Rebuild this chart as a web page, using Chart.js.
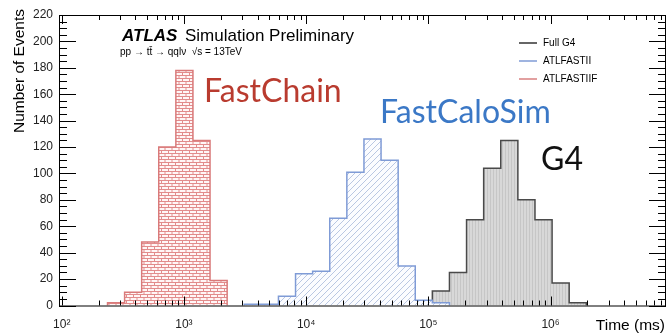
<!DOCTYPE html>
<html>
<head>
<meta charset="utf-8">
<script src="https://cdn.jsdelivr.net/npm/chart.js@4.4.1/dist/chart.umd.min.js"></script>
<style>
html, body { margin: 0; padding: 0; background: #fff; }
</style>
</head>
<body>
<canvas id="grafica" width="671" height="334"></canvas>
<script>
// bordes de los bins (ms), comunes a los tres histogramas
const bordesBins = [237, 327, 451, 622, 859, 1185, 1635, 2257, 3115, 4299, 5934, 8190,
  11300, 15600, 21530, 29720, 41010, 56610, 78120, 107800, 148800, 205400, 283500,
  391300, 540100, 745400, 1029000, 1420000, 1960000]

// eventos por bin; cada serie empieza en un bin distinto
const inicioFastChain = 0
const eventosFastChain = [2, 10, 48, 120, 178, 125, 19]
const inicioFastCaloSim = 8
const eventosFastCaloSim = [1, 1, 7, 24, 26, 66, 101, 126, 110, 30, 4, 2]
const inicioG4 = 17
const eventosG4 = [1, 3, 11, 25, 65, 104, 125, 80, 65, 17, 2]

const ticksX = [1e2, 1e3, 1e4, 1e5, 1e6]
const etiquetasX = ["10\u00b2", "10\u00b3", "10\u2074", "10\u2075", "10\u2076"]
const leyendaTextos = ["Full G4", "ATLFASTII", "ATLFASTIIF"]
const leyendaColores = ["#333333", "#7f9bd6", "#d98080"]

function puntosHistograma(inicio, eventos) {
  const puntos = [{ x: bordesBins[inicio], y: 0 }]
  eventos.forEach((n, i) => {
    puntos.push({ x: bordesBins[inicio + i], y: n })
  })
  puntos.push({ x: bordesBins[inicio + eventos.length], y: 0 })
  return puntos
}

function patronLadrillo() {
  const c = document.createElement("canvas")
  c.width = 7; c.height = 6
  const g = c.getContext("2d")
  g.fillStyle = "#fff6f6"; g.fillRect(0, 0, 7, 6)
  g.strokeStyle = "#e28c8c"; g.lineWidth = 1
  g.beginPath()
  g.moveTo(0, 0.5); g.lineTo(7, 0.5)
  g.moveTo(0, 3.5); g.lineTo(7, 3.5)
  g.moveTo(0.5, 0); g.lineTo(0.5, 3.5)
  g.moveTo(4, 3.5); g.lineTo(4, 6)
  g.stroke()
  return g.createPattern(c, "repeat")
}

function patronDiagonal() {
  const c = document.createElement("canvas")
  c.width = 6; c.height = 6
  const g = c.getContext("2d")
  g.fillStyle = "#fbfcff"; g.fillRect(0, 0, 6, 6)
  g.strokeStyle = "#b9c7e2"; g.lineWidth = 1
  g.beginPath()
  g.moveTo(0, 6); g.lineTo(6, 0)
  g.moveTo(-1, 1); g.lineTo(1, -1)
  g.moveTo(5, 7); g.lineTo(7, 5)
  g.stroke()
  return g.createPattern(c, "repeat")
}

function patronGris() {
  const c = document.createElement("canvas")
  c.width = 3; c.height = 4
  const g = c.getContext("2d")
  g.fillStyle = "#d8d8d8"; g.fillRect(0, 0, 3, 4)
  g.fillStyle = "#c6c6c6"; g.fillRect(1, 0, 1, 4)
  return g.createPattern(c, "repeat")
}

const marcoYTextos = {
  id: "marcoYTextos",
  afterDatasetsDraw(chart) {
    const ctx = chart.ctx
    const a = chart.chartArea
    const x = chart.scales.x
    const y = chart.scales.y
    ctx.save()
    ctx.strokeStyle = "#000"
    ctx.lineWidth = 1
    ctx.strokeRect(a.left + 0.5, a.top + 0.5, a.right - a.left - 1, a.bottom - a.top)

    // ticks hacia adentro, en los cuatro lados
    ctx.beginPath()
    for (let d = 1; d <= 6; d++) {
      for (let m = 1; m <= 9; m++) {
        const v = m * Math.pow(10, d)
        if (v < x.min || v > x.max) continue
        const px = Math.round(x.getPixelForValue(v)) + 0.5
        const largo = m === 1 ? 9 : 5
        ctx.moveTo(px, a.bottom); ctx.lineTo(px, a.bottom - largo)
        ctx.moveTo(px, a.top); ctx.lineTo(px, a.top + largo)
      }
    }
    for (let v = 0; v <= 220; v += 5) {
      const py = Math.round(y.getPixelForValue(v)) + 0.5
      const largo = v % 20 === 0 ? 17 : 8
      ctx.moveTo(a.left, py); ctx.lineTo(a.left + largo, py)
      ctx.moveTo(a.right, py); ctx.lineTo(a.right - largo, py)
    }
    ctx.stroke()

    // titulo ATLAS
    ctx.fillStyle = "#000"
    ctx.textBaseline = "alphabetic"
    ctx.textAlign = "left"
    ctx.font = "italic bold 17px 'Liberation Sans', Arial, sans-serif"
    ctx.fillText("ATLAS", 122, 41)
    ctx.font = "17px 'Liberation Sans', Arial, sans-serif"
    ctx.fillText("Simulation Preliminary", 185, 41)
    ctx.font = "10px 'Liberation Sans', Arial, sans-serif"
    ctx.fillText("pp \u2192 tt\u0304 \u2192 qql\u03bd  \u221as = 13TeV", 120, 55)

    // leyenda
    ctx.font = "10px 'Liberation Sans', Arial, sans-serif"
    ctx.textBaseline = "middle"
    leyendaTextos.forEach((t, i) => {
      const ly = 43 + i * 18
      ctx.strokeStyle = leyendaColores[i]
      ctx.lineWidth = 1.5
      ctx.beginPath(); ctx.moveTo(519, ly); ctx.lineTo(537, ly); ctx.stroke()
      ctx.fillStyle = "#000"
      ctx.fillText(t, 543, ly)
    })

    // etiquetas grandes
    ctx.textBaseline = "alphabetic"
    ctx.font = "32px Lato, 'Open Sans', sans-serif"
    ctx.fillStyle = "#b93b2f"
    ctx.fillText("FastChain", 204, 102)
    ctx.fillStyle = "#3b78c6"
    ctx.fillText("FastCaloSim", 380, 123)
    ctx.fillStyle = "#111"
    ctx.fillText("G4", 541, 170)

    // titulos de ejes
    ctx.fillStyle = "#000"
    ctx.font = "15.5px 'Liberation Sans', Arial, sans-serif"
    ctx.textAlign = "right"
    ctx.fillText("Time (ms)", 665, 330)
    ctx.save()
    ctx.translate(24, 9)
    ctx.rotate(-Math.PI / 2)
    ctx.fillText("Number of Events", 0, 0)
    ctx.restore()
    ctx.restore()
  }
}

const config = {
  type: "line",
  data: {
    datasets: [
      {
        label: "ATLFASTIIF",
        data: puntosHistograma(inicioFastChain, eventosFastChain),
        borderColor: "#d97a7a",
        backgroundColor: patronLadrillo(),
        order: 1
      },
      {
        label: "ATLFASTII",
        data: puntosHistograma(inicioFastCaloSim, eventosFastCaloSim),
        borderColor: "#7f9bd6",
        backgroundColor: patronDiagonal(),
        order: 2
      },
      {
        label: "Full G4",
        data: puntosHistograma(inicioG4, eventosG4),
        borderColor: "#4a4a4a",
        backgroundColor: patronGris(),
        order: 3
      }
    ].map(ds => Object.assign(ds, {
      stepped: "before",
      fill: "origin",
      borderWidth: 1.5,
      pointRadius: 0,
      tension: 0
    }))
  },
  options: {
    responsive: false,
    animation: false,
    devicePixelRatio: 1,
    layout: { padding: { left: 0, right: 5, top: 15, bottom: 0 } },
    plugins: { legend: { display: false }, tooltip: { enabled: false } },
    scales: {
      x: {
        type: "logarithmic",
        min: 95,
        max: 8.8e6,
        grid: { display: false },
        border: { display: false },
        afterFit: s => { s.height = 28.5 },
        afterBuildTicks: s => { s.ticks = ticksX.map(v => ({ value: v })) },
        ticks: {
          autoSkip: false,
          maxRotation: 0,
          padding: 4,
          color: "#222",
          font: { family: "'Liberation Sans', Arial, sans-serif", size: 12 },
          callback: v => etiquetasX[ticksX.indexOf(v)]
        }
      },
      y: {
        type: "linear",
        min: 0,
        max: 220,
        grid: { display: false, drawTicks: false },
        border: { display: false },
        afterFit: s => { s.width = 59 },
        ticks: {
          stepSize: 20,
          padding: 6,
          color: "#222",
          font: { family: "'Liberation Sans', Arial, sans-serif", size: 12 }
        }
      }
    }
  },
  plugins: [marcoYTextos]
}

const graficaDOM = document.getElementById("grafica")
new Chart(graficaDOM, config)
</script>
</body>
</html>
